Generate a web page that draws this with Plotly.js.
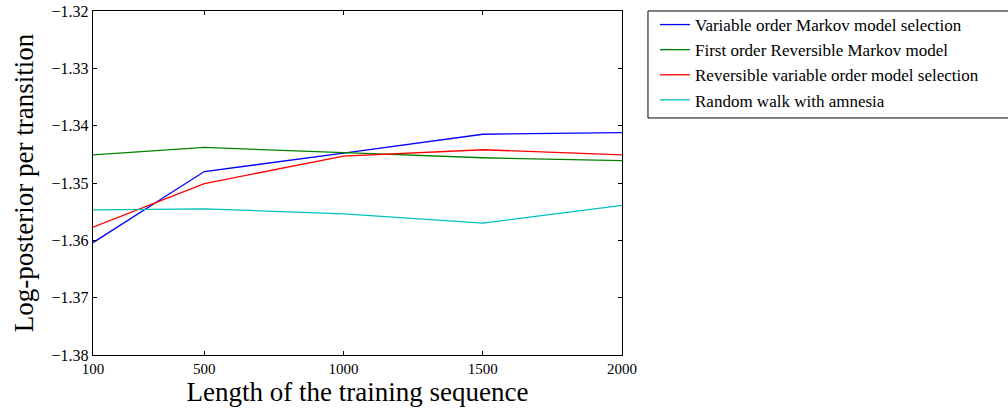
<!DOCTYPE html>
<html><head><meta charset="utf-8">
<script src="https://cdn.plot.ly/plotly-3.0.1.min.js"></script>
<style>body{margin:0;padding:0;background:#fff}#chart{width:1008px;height:408px}</style>
</head><body><div id="chart"></div>
<script>
const xValues = [100, 500, 1000, 1500, 2000];
const seriesNames = [
  "Variable order Markov model selection",
  "First order Reversible Markov model",
  "Reversible variable order model selection",
  "Random walk with amnesia"
];
const variableOrder = [-1.3604, -1.3480, -1.3448, -1.3415, -1.3412];
const firstOrderReversible = [-1.3451, -1.3438, -1.3447, -1.3456, -1.3461];
const reversibleVariable = [-1.3577, -1.3501, -1.3453, -1.3442, -1.3451];
const randomWalk = [-1.3547, -1.3545, -1.3554, -1.3570, -1.3539];
const colors = ["#0000ff", "#008000", "#ff0000", "#00bfbf"];
const xTicks = [100, 500, 1000, 1500, 2000];
const yTicks = [-1.38, -1.37, -1.36, -1.35, -1.34, -1.33, -1.32];

const ys = [variableOrder, firstOrderReversible, reversibleVariable, randomWalk];
const data = ys.map((y, i) => ({
  x: xValues, y: y, type: "scatter", mode: "lines", name: seriesNames[i],
  line: {color: colors[i], width: 1.3}
}));

const font = "'Liberation Serif', serif";
const axisCommon = {
  showgrid: false, zeroline: false, showline: true, linecolor: "#000", linewidth: 1.2,
  mirror: "ticks", ticks: "inside", ticklen: 4, tickwidth: 1, tickcolor: "#000",
  tickfont: {family: font, size: 16, color: "#000"}
};
const layout = {
  width: 1008, height: 408,
  margin: {l: 93, r: 386, t: 11, b: 53, autoexpand: false},
  paper_bgcolor: "#fff", plot_bgcolor: "#fff",
  font: {family: font, color: "#000"},
  showlegend: true,
  xaxis: Object.assign({}, axisCommon, {
    range: [100, 2000], tickvals: xTicks, ticktext: xTicks.map(String),
    tickfont: {family: font, size: 15, color: "#000"},
    title: {text: "Length of the training sequence", font: {family: font, size: 27}, standoff: 4}
  }),
  yaxis: Object.assign({}, axisCommon, {
    range: [-1.38, -1.32], tickvals: yTicks, tickformat: ".2f",
    title: {text: "Log-posterior per transition", font: {family: font, size: 27}, standoff: 10}
  }),
  legend: {
    x: 1.0624, y: 1.0116, xanchor: "left", yanchor: "top",
    borderwidth: 0, bgcolor: "rgba(0,0,0,0)",
    font: {family: font, size: 17, color: "#000"}
  },
  shapes: [{
    type: "rect", xref: "paper", yref: "paper",
    x0: 1.0491, x1: 1.74, y0: 0.689, y1: 1,
    line: {color: "#000", width: 1}, fillcolor: "rgba(0,0,0,0)", layer: "below"
  }]
};
Plotly.newPlot("chart", data, layout, {displayModeBar: false, staticPlot: true});
</script></body></html>
